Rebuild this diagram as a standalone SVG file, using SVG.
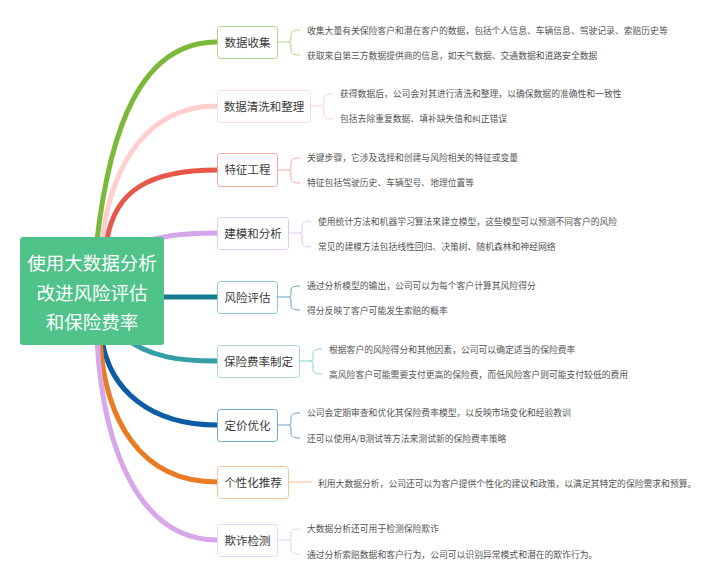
<svg xmlns="http://www.w3.org/2000/svg" width="720" height="582" viewBox="0 0 720 582">
<style>
text{font-family:"Noto Sans CJK SC","Noto Sans",sans-serif;}
.c{fill:none;stroke-width:5;stroke-linecap:round;}
.b{fill:none;stroke-width:1;}
.n{fill:#fff;stroke-width:1;}
.nt{font-size:11.5px;fill:#3a3a3a;text-anchor:middle;}
.lt{font-size:8.8px;fill:#555;}
.ct{font-size:18.5px;fill:#fff;text-anchor:middle;}
</style>
<rect width="720" height="582" fill="#fff"/>
<g id="connectors">
<path class="c" stroke="#7cb93a" d="M97,240 C110,130 140,42 217,42"/>
<path class="c" stroke="#ffcfcf" d="M102,240 C112,160 150,106 217,106"/>
<path class="c" stroke="#e8584a" d="M107,240 C115,190 150,170 217,170"/>
<path class="c" stroke="#d6a6ea" d="M130,246 C160,236 180,233 217,233"/>
<path class="c" stroke="#177a8e" d="M150,297 L217,297"/>
<path class="c" stroke="#369ea6" d="M120,335 C150,358 180,361 217,361"/>
<path class="c" stroke="#0b5ba5" d="M102,340 C110,390 150,425 217,425"/>
<path class="c" stroke="#e97c25" d="M100,340 C105,420 140,482 217,482"/>
<path class="c" stroke="#d8a7ea" d="M97,340 C103,450 140,540 217,540"/>
</g>
<g id="central">
<rect x="20" y="237" width="144" height="108" rx="3" fill="#50c38a"/>
<text class="ct" x="92" y="270">使用大数据分析</text>
<text class="ct" x="92" y="300">改进风险评估</text>
<text class="ct" x="92" y="329">和保险费率</text>
</g>
<g id="n1">
<rect class="n" x="217.5" y="26.5" width="60" height="32" rx="3" stroke="#acd98a"/>
<text class="nt" x="247.5" y="46.5">数据收集</text>
<path class="b" stroke="#acd48a" d="M277,42 H289 C291,42 291,40 291,37 V35 C291,31 294,30 300,30 M289,42 C291,42 291,44 291,47 V50 C291,54 294,55 300,55"/>
<text class="lt" x="307" y="33.5">收集大量有关保险客户和潜在客户的数据，包括个人信息、车辆信息、驾驶记录、索赔历史等</text>
<text class="lt" x="307" y="58.5">获取来自第三方数据提供商的信息，如天气数据、交通数据和道路安全数据</text>
</g>
<g id="n2">
<rect class="n" x="217.5" y="90.5" width="93" height="32" rx="3" stroke="#fddada"/>
<text class="nt" x="264" y="110.5">数据清洗和整理</text>
<path class="b" stroke="#fdd0d0" d="M310,106 H322 C324,106 324,104 324,101 V99 C324,95 327,94 333,94 M322,106 C324,106 324,108 324,111 V114 C324,118 327,119 333,119"/>
<text class="lt" x="340" y="97">获得数据后，公司会对其进行清洗和整理，以确保数据的准确性和一致性</text>
<text class="lt" x="340" y="122">包括去除重复数据、填补缺失值和纠正错误</text>
</g>
<g id="n3">
<rect class="n" x="217.5" y="153.5" width="60" height="33" rx="3" stroke="#f4a89e"/>
<text class="nt" x="247.5" y="174">特征工程</text>
<path class="b" stroke="#f4a89e" d="M277,170 H289 C291,170 291,168 291,165 V163 C291,159 294,158 300,158 M289,170 C291,170 291,172 291,175 V178 C291,182 294,183 300,183"/>
<text class="lt" x="307" y="161">关键步骤，它涉及选择和创建与风险相关的特征或变量</text>
<text class="lt" x="307" y="186">特征包括驾驶历史、车辆型号、地理位置等</text>
</g>
<g id="n4">
<rect class="n" x="217.5" y="217.5" width="71" height="32" rx="3" stroke="#e6c9f2"/>
<text class="nt" x="253" y="237.5">建模和分析</text>
<path class="b" stroke="#e3c4f0" d="M288,233 H300 C302,233 302,231 302,228 V226 C302,222 305,221 311,221 M300,233 C302,233 302,235 302,238 V242 C302,246 305,247 311,247"/>
<text class="lt" x="318" y="224.5">使用统计方法和机器学习算法来建立模型，这些模型可以预测不同客户的风险</text>
<text class="lt" x="318" y="250">常见的建模方法包括线性回归、决策树、随机森林和神经网络</text>
</g>
<g id="n5">
<rect class="n" x="217.5" y="281.5" width="60" height="32" rx="3" stroke="#8ec7d3"/>
<text class="nt" x="247.5" y="301.5">风险评估</text>
<path class="b" stroke="#5ba9c0" d="M277,297 H289 C291,297 291,295 291,292 V290 C291,287 294,286 300,286 M289,297 C291,297 291,299 291,302 V305 C291,309 294,310 300,310"/>
<text class="lt" x="307" y="289">通过分析模型的输出，公司可以为每个客户计算其风险得分</text>
<text class="lt" x="307" y="314">得分反映了客户可能发生索赔的概率</text>
</g>
<g id="n6">
<rect class="n" x="217.5" y="345.5" width="82" height="32" rx="3" stroke="#a3d6da"/>
<text class="nt" x="258.5" y="365.5">保险费率制定</text>
<path class="b" stroke="#8ccfd5" d="M299,361 H311 C313,361 313,359 313,356 V354 C313,350 316,349 322,349 M311,361 C313,361 313,363 313,366 V369 C313,373 316,374 322,374"/>
<text class="lt" x="329" y="352.5">根据客户的风险得分和其他因素，公司可以确定适当的保险费率</text>
<text class="lt" x="329" y="377.5">高风险客户可能需要支付更高的保险费，而低风险客户则可能支付较低的费用</text>
</g>
<g id="n7">
<rect class="n" x="217.5" y="409.5" width="60" height="32" rx="3" stroke="#74a6d6"/>
<text class="nt" x="247.5" y="429.5">定价优化</text>
<path class="b" stroke="#6a9ed2" d="M277,425 H289 C291,425 291,423 291,420 V418 C291,414 294,413 300,413 M289,425 C291,425 291,427 291,430 V433 C291,437 294,438 300,438"/>
<text class="lt" x="307" y="416">公司会定期审查和优化其保险费率模型，以反映市场变化和经验教训</text>
<text class="lt" x="307" y="441.5">还可以使用A/B测试等方法来测试新的保险费率策略</text>
</g>
<g id="n8">
<rect class="n" x="217.5" y="466.5" width="71" height="32" rx="3" stroke="#f7c59c"/>
<text class="nt" x="253" y="486.5">个性化推荐</text>
<path class="b" stroke="#f7bf92" d="M288,482 H312"/>
<text class="lt" x="318" y="486.5">利用大数据分析，公司还可以为客户提供个性化的建议和政策，以满足其特定的保险需求和预算。</text>
</g>
<g id="n9">
<rect class="n" x="217.5" y="524.5" width="60" height="32" rx="3" stroke="#eed4f6"/>
<text class="nt" x="247.5" y="544.5">欺诈检测</text>
<path class="b" stroke="#e8ccf4" d="M277,540 H289 C291,540 291,538 291,535 V533 C291,530 294,529 300,529 M289,540 C291,540 291,542 291,545 V549 C291,553 294,554 300,554"/>
<text class="lt" x="307" y="532">大数据分析还可用于检测保险欺诈</text>
<text class="lt" x="307" y="557.5">通过分析索赔数据和客户行为，公司可以识别异常模式和潜在的欺诈行为。</text>
</g>
</svg>
